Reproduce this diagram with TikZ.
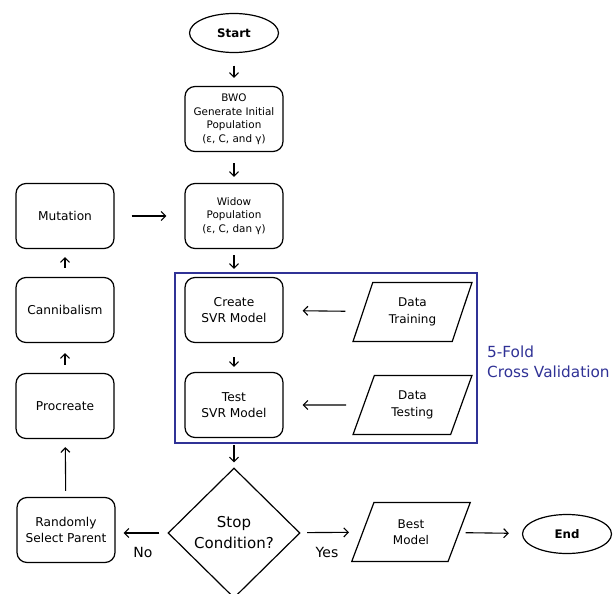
\documentclass[tikz,border=0pt]{standalone}
\usepackage{fontspec}
\setmainfont{DejaVu Sans}
\usetikzlibrary{shapes.geometric,arrows.meta}
\definecolor{cvblue}{RGB}{48,50,150}
\tikzset{
  every node/.style={inner sep=0pt, align=center},
  rbox/.style={draw, rounded corners=10pt, line width=1.2pt, minimum width=98pt, minimum height=65pt},
  smalltxt/.style={font=\fontsize{10.4}{13.5}\selectfont},
  midtxt/.style={font=\fontsize{12.2}{16.5}\selectfont},
  term/.style={draw, ellipse, line width=1.2pt, minimum width=89pt, minimum height=39pt, font=\fontsize{11.8}{14}\selectfont\bfseries},
  para/.style={draw, trapezium, trapezium left angle=67, trapezium right angle=113, trapezium stretches=true, line width=1.2pt, minimum width=119pt, minimum height=59pt, font=\fontsize{12}{16.5}\selectfont},
  dia/.style={draw, diamond, line width=1.2pt, minimum width=132pt, minimum height=130pt, font=\fontsize{15}{21}\selectfont},
  arr/.style={-{Straight Barb[length=4.5pt,width=9pt]}, line width=1.1pt},
  lbl/.style={font=\fontsize{14}{16}\selectfont, anchor=center}
}
\begin{document}
\begin{tikzpicture}[x=1pt,y=-1pt]
\useasboundingbox (0,0) rectangle (613,594);
\clip (0,0) rectangle (613,594);
\fill[white] (0,0) rectangle (613,594);

% blue group box
\draw[cvblue, line width=1.3pt] (175,273) rectangle (477,443);
\node[cvblue, font=\fontsize{15.3}{19.5}\selectfont, align=left, anchor=west] (cvlabel) at (487,362) {5-Fold\\Cross Validation};

% main column
\node[term] (start) at (234,33) {Start};
\node[rbox, smalltxt] (bwo) at (234,119) {BWO\\Generate Initial\\Population\\(ε, C, and γ)};
\node[rbox, smalltxt] (widow) at (234,216) {Widow\\Population\\(ε, C, dan γ)};
\node[rbox, midtxt] (create) at (234,310) {Create\\SVR Model};
\node[rbox, midtxt] (test) at (234,405) {Test\\SVR Model};
\node[para] (train) at (412.5,312) {Data\\Training};
\node[para] (testing) at (412.5,405) {Data\\Testing};
\node[dia] (stop) at (234,533) {Stop\\Condition?};
\node[para] (best) at (411,532) {Best\\Model};
\node[term] (end) at (567,534) {End};

% left column
\node[rbox, midtxt] (mutation) at (65,216) {Mutation};
\node[rbox, midtxt] (cannibal) at (65,310) {Cannibalism};
\node[rbox, midtxt] (procreate) at (65,406) {Procreate};
\node[rbox, midtxt] (rand) at (66,530) {Randomly\\Select Parent};

% connectors
\draw[arr, shorten <=12.5pt, shorten >=8pt] (start) -- (bwo);
\draw[arr, shorten <=11pt, shorten >=6pt] (bwo) -- (widow);
\draw[arr, shorten <=6pt, shorten >=8pt] (widow) -- (create);
\draw[arr, shorten <=14pt, shorten >=5pt] (create) -- (test);
\draw[arr, shorten <=7pt, shorten >=5pt] (test) -- (stop);
\draw[arr, shorten <=17pt, shorten >=19pt] (train) -- (create);
\draw[arr, shorten <=17pt, shorten >=19pt] (testing) -- (test);
\draw[arr, shorten <=8pt, shorten >=8pt] (stop) -- (stop -| rand.east);
\draw[arr, shorten <=7pt, shorten >=13pt] (stop) -- (best);
\draw[arr, shorten <=6pt, shorten >=13pt] (best) -- (end);
\draw[arr, shorten <=6pt, shorten >=8pt] (rand) -- (procreate);
\draw[arr, shorten <=8pt, shorten >=10pt] (procreate) -- (cannibal);
\draw[arr, shorten <=9pt, shorten >=8pt] (cannibal) -- (mutation);
\draw[arr, shorten <=17pt, shorten >=18pt] (mutation) -- (widow);

% edge labels
\node[lbl] (nolbl) at (143,552) {No};
\node[lbl] (yeslbl) at (327,552) {Yes};
\end{tikzpicture}
\end{document}
